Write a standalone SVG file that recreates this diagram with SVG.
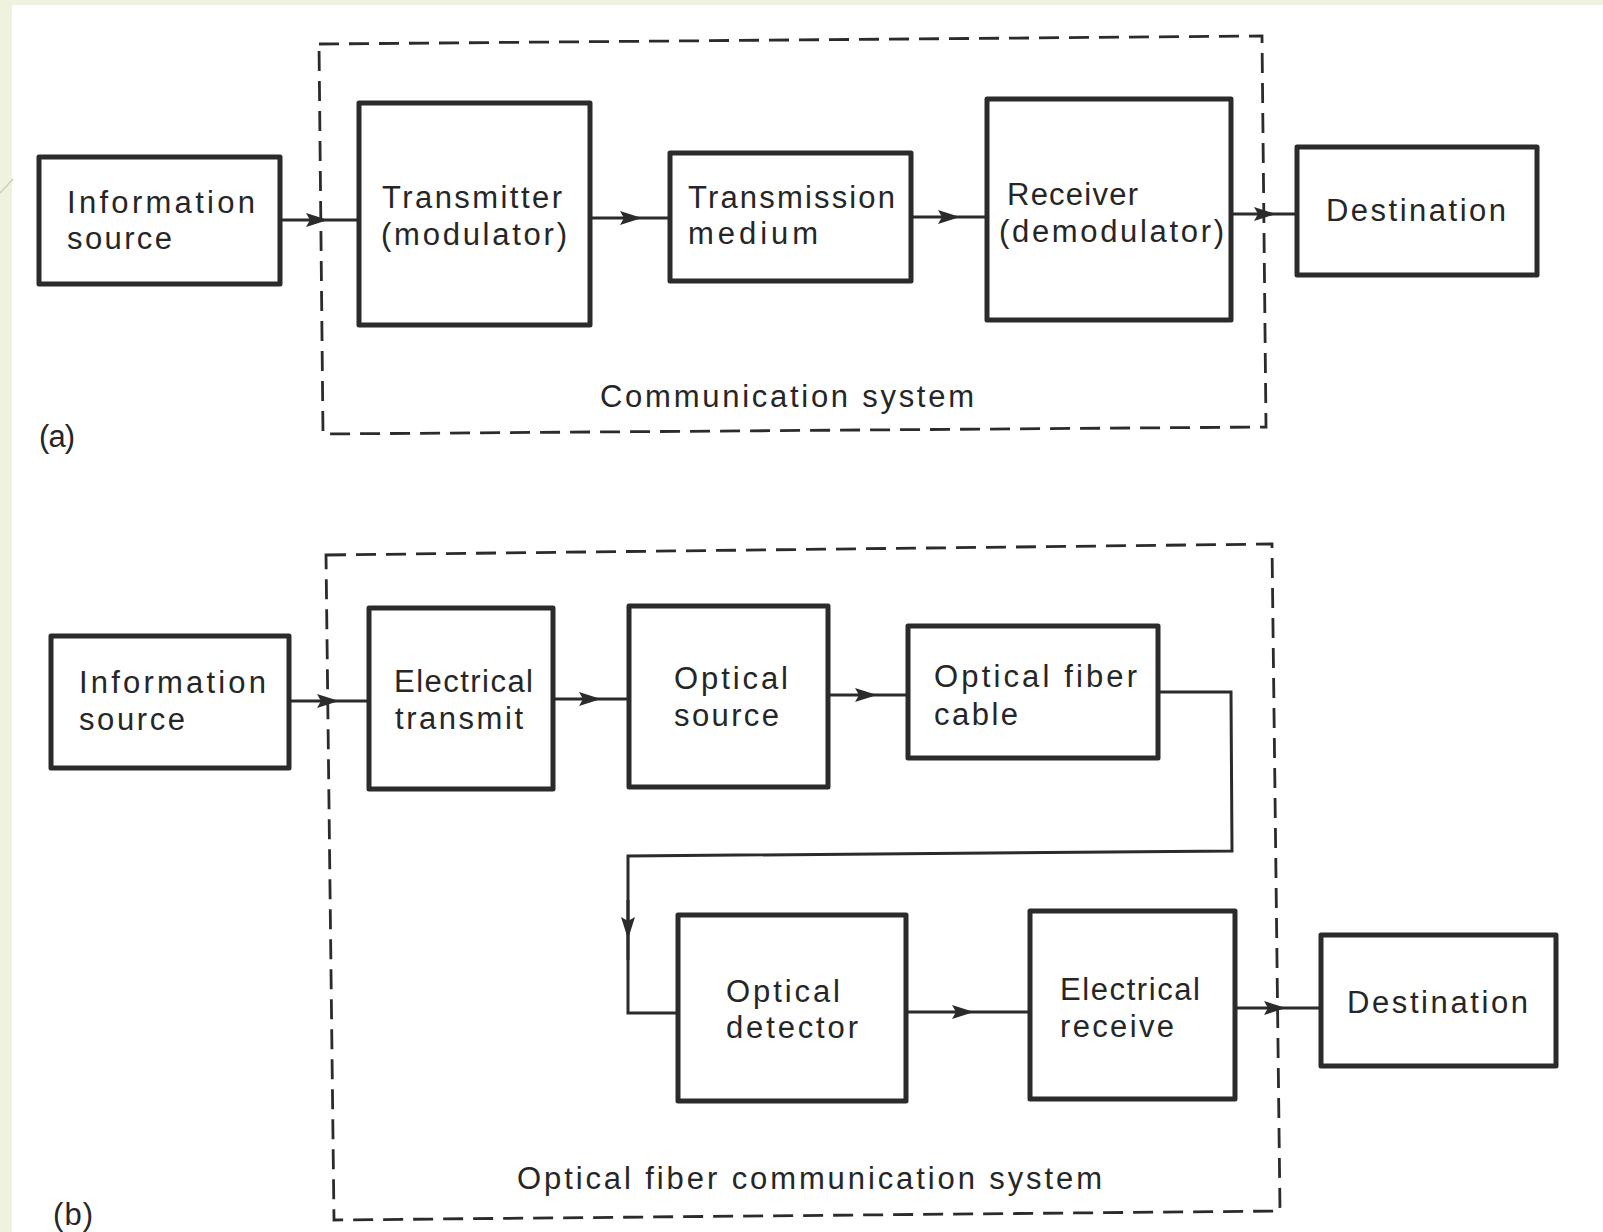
<svg xmlns="http://www.w3.org/2000/svg" width="1603" height="1232" viewBox="0 0 1603 1232">
<style>
.bg{fill:#ffffff}
.strip{fill:#eef2de}
.box{fill:#ffffff;stroke:#2b2b2b;stroke-width:5;stroke-linejoin:round}
.dash{fill:none;stroke:#2b2b2b;stroke-width:2.8;stroke-dasharray:20 10}
.con{fill:none;stroke:#2b2b2b;stroke-width:3}
.t{font-family:"Liberation Sans",Arial,sans-serif;font-size:31px;fill:#262626}
</style>
<defs>
<marker id="ah" markerWidth="24" markerHeight="16" refX="21" refY="8" orient="auto" markerUnits="userSpaceOnUse">
<path d="M0,1 L22,8 L0,15 L4,8 Z" fill="#2b2b2b"/>
</marker>
</defs>
<rect class="bg" x="0" y="0" width="1603" height="1232"/>
<rect class="strip" x="0" y="0" width="12" height="1232"/>
<rect class="strip" x="0" y="0" width="1603" height="5"/>
<line x1="0" y1="193" x2="13" y2="179" stroke="#c9d1b4" stroke-width="1.5"/>

<!-- Panel (a) -->
<g id="system-a">
<path class="dash" d="M319,44 L1262,36 L1266,427 L323,434 Z"/>
<text class="t" x="600" y="407" textLength="374" lengthAdjust="spacing">Communication system</text>
<text class="t" x="39" y="447" textLength="36" lengthAdjust="spacing">(a)</text>
</g>
<g id="info-source-a">
<rect class="box" x="39" y="157" width="241" height="127"/>
<text class="t" x="67" y="213" textLength="188" lengthAdjust="spacing">Information</text>
<text class="t" x="67" y="249" textLength="105" lengthAdjust="spacing">source</text>
</g>
<g id="transmitter-a">
<rect class="box" x="359" y="103" width="231" height="222"/>
<text class="t" x="382" y="208" textLength="180" lengthAdjust="spacing">Transmitter</text>
<text class="t" x="381" y="245" textLength="186" lengthAdjust="spacing">(modulator)</text>
</g>
<g id="medium-a">
<rect class="box" x="670" y="153" width="241" height="128"/>
<text class="t" x="688" y="208" textLength="207" lengthAdjust="spacing">Transmission</text>
<text class="t" x="688" y="244" textLength="130" lengthAdjust="spacing">medium</text>
</g>
<g id="receiver-a">
<rect class="box" x="987" y="99" width="244" height="221"/>
<text class="t" x="1007" y="205" textLength="131" lengthAdjust="spacing">Receiver</text>
<text class="t" x="999" y="242" textLength="225" lengthAdjust="spacing">(demodulator)</text>
</g>
<g id="destination-a">
<rect class="box" x="1297" y="147" width="240" height="128"/>
<text class="t" x="1326" y="221" textLength="180" lengthAdjust="spacing">Destination</text>
</g>

<!-- Panel (b) -->
<g id="system-b">
<path class="dash" d="M326,555 L1272,544 L1280,1211 L334,1220 Z"/>
<text class="t" x="517" y="1189" textLength="585" lengthAdjust="spacing">Optical fiber communication system</text>
<text class="t" x="53" y="1225" textLength="40" lengthAdjust="spacing">(b)</text>
</g>
<g id="info-source-b">
<rect class="box" x="51" y="636" width="238" height="132"/>
<text class="t" x="79" y="693" textLength="187" lengthAdjust="spacing">Information</text>
<text class="t" x="79" y="730" textLength="106" lengthAdjust="spacing">source</text>
</g>
<g id="electrical-transmit">
<rect class="box" x="369" y="608" width="184" height="181"/>
<text class="t" x="394" y="692" textLength="139" lengthAdjust="spacing">Electrical</text>
<text class="t" x="395" y="729" textLength="128" lengthAdjust="spacing">transmit</text>
</g>
<g id="optical-source">
<rect class="box" x="629" y="606" width="199" height="181"/>
<text class="t" x="674" y="689" textLength="114" lengthAdjust="spacing">Optical</text>
<text class="t" x="674" y="726" textLength="105" lengthAdjust="spacing">source</text>
</g>
<g id="optical-fiber-cable">
<rect class="box" x="908" y="626" width="250" height="132"/>
<text class="t" x="934" y="687" textLength="203" lengthAdjust="spacing">Optical fiber</text>
<text class="t" x="934" y="725" textLength="84" lengthAdjust="spacing">cable</text>
</g>
<g id="optical-detector">
<rect class="box" x="678" y="915" width="228" height="186"/>
<text class="t" x="726" y="1002" textLength="114" lengthAdjust="spacing">Optical</text>
<text class="t" x="726" y="1038" textLength="132" lengthAdjust="spacing">detector</text>
</g>
<g id="electrical-receive">
<rect class="box" x="1030" y="911" width="205" height="188"/>
<text class="t" x="1060" y="1000" textLength="140" lengthAdjust="spacing">Electrical</text>
<text class="t" x="1060" y="1037" textLength="114" lengthAdjust="spacing">receive</text>
</g>
<g id="destination-b">
<rect class="box" x="1321" y="935" width="235" height="131"/>
<text class="t" x="1347" y="1013" textLength="181" lengthAdjust="spacing">Destination</text>
</g>

<g id="connectors">
<path class="con" d="M280,220 L327,220 L359,220" marker-mid="url(#ah)"/>
<path class="con" d="M590,218 L641,218 L670,218" marker-mid="url(#ah)"/>
<path class="con" d="M911,217 L959,217 L987,217" marker-mid="url(#ah)"/>
<path class="con" d="M1231,214 L1275,214 L1297,214" marker-mid="url(#ah)"/>
<path class="con" d="M289,701 L338,701 L369,701" marker-mid="url(#ah)"/>
<path class="con" d="M553,699 L600,699 L629,699" marker-mid="url(#ah)"/>
<path class="con" d="M828,695 L876,695 L908,695" marker-mid="url(#ah)"/>
<path class="con" d="M1158,692 L1231,692 L1232,851 L628,856 L628,1013 L678,1013" stroke-linejoin="miter"/>
<path class="con" d="M628,900 L628,938 L628,960" marker-mid="url(#ah)"/>
<path class="con" d="M906,1012 L973,1012 L1030,1012" marker-mid="url(#ah)"/>
<path class="con" d="M1235,1008 L1285,1008 L1321,1008" marker-mid="url(#ah)"/>
</g>
</svg>
